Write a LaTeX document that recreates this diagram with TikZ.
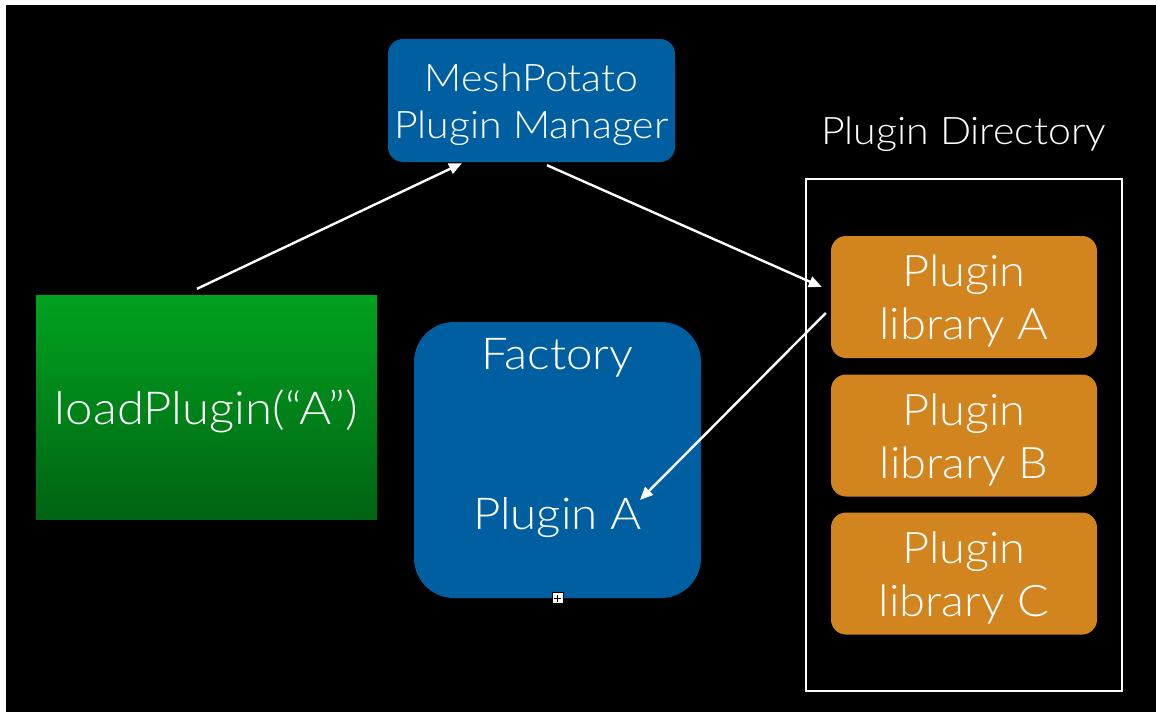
\documentclass[tikz,border=0pt]{standalone}
\usepackage{fontspec}
\setmainfont{Lato Light}[FakeStretch=1.08]
\usetikzlibrary{arrows.meta}
\definecolor{mpblue}{RGB}{0,95,160}
\definecolor{liborange}{RGB}{210,132,30}
\definecolor{gtop}{RGB}{0,162,32}
\definecolor{gbot}{RGB}{0,100,18}
\tikzset{
  bluebox/.style={fill=mpblue, draw=none, text=white},
  libbox/.style={fill=liborange, draw=none, rounded corners=15pt, minimum width=266pt, minimum height=122pt},
  libtxt/.style={text=white, inner sep=0pt, align=center, font=\fontsize{43.5}{53}\selectfont},
  txt/.style={text=white, inner sep=0pt},
  conn/.style={draw=white, line width=2.4pt, -{Triangle[length=13pt,width=11pt]}}
}
\begin{document}
\begin{tikzpicture}[x=1pt,y=-1pt]
\useasboundingbox (0,0) rectangle (1156,712);
\fill[white] (0,0) rectangle (1156,712);
\fill[black] (6,5) rectangle (1156,712);

% Plugin Manager
\node[bluebox, rounded corners=15pt, minimum width=287pt, minimum height=123pt] (mgr) at (531.5,100.5) {};
\node[txt, align=center, font=\fontsize{38}{47}\selectfont] (mgrtxt) at (531.5,105) {MeshPotato\\Plugin Manager};

% loadPlugin box
\node[shade, top color=gtop, bottom color=gbot, draw=none, minimum width=341pt, minimum height=224pt, inner sep=0pt] (load) at (206.5,407) {};
\node[txt, font=\fontsize{45.5}{52}\selectfont] (loadtxt) at (206.5,411) {loadPlugin(“A”)};

% Factory box
\node[bluebox, rounded corners=40pt, minimum width=287pt, minimum height=276pt] (fac) at (557.5,460) {};
\node[txt, font=\fontsize{44}{50}\selectfont] (factxt) at (557.5,358) {Factory};
\node[txt, font=\fontsize{44}{50}\selectfont] (plugA) at (557.5,518) {Plugin A};

% selection handle artifact
\node[fill=white, draw=black, line width=0.6pt, minimum size=11pt, inner sep=0pt] (handle) at (557.5,598) {};
\draw[black, line width=1pt] ([xshift=-3.5pt]handle.center) -- ([xshift=3.5pt]handle.center);
\draw[black, line width=1pt] ([yshift=-3.5pt]handle.center) -- ([yshift=3.5pt]handle.center);

% Plugin Directory
\node[txt, font=\fontsize{38}{44}\selectfont] (dirlabel) at (963.5,134) {Plugin Directory};
\node[draw=white, line width=2pt, minimum width=316pt, minimum height=512pt, inner sep=0pt] (dir) at (964,435) {};
\node[libbox] (libA) at (964,297) {};
\node[libbox] (libB) at (964,435.5) {};
\node[libbox] (libC) at (964,573.5) {};
\node[libtxt] (libAt) at (964,301) {Plugin\\library A};
\node[libtxt] (libBt) at (964,439.5) {Plugin\\library B};
\node[libtxt] (libCt) at (964,577.5) {Plugin\\library C};

% connectors
\draw[conn] ([xshift=-9.5pt,yshift=6pt]load.north) -- ([xshift=-69.5pt,yshift=-1pt]mgr.south);
\draw[conn] ([xshift=15.5pt,yshift=-3pt]mgr.south) -- ([xshift=-9pt,yshift=10pt]libA.west);
\draw[conn] ([xshift=-5pt,yshift=-16pt]libA.west) -- ([xshift=82.5pt,yshift=-40pt]fac.center);
\end{tikzpicture}
\end{document}
